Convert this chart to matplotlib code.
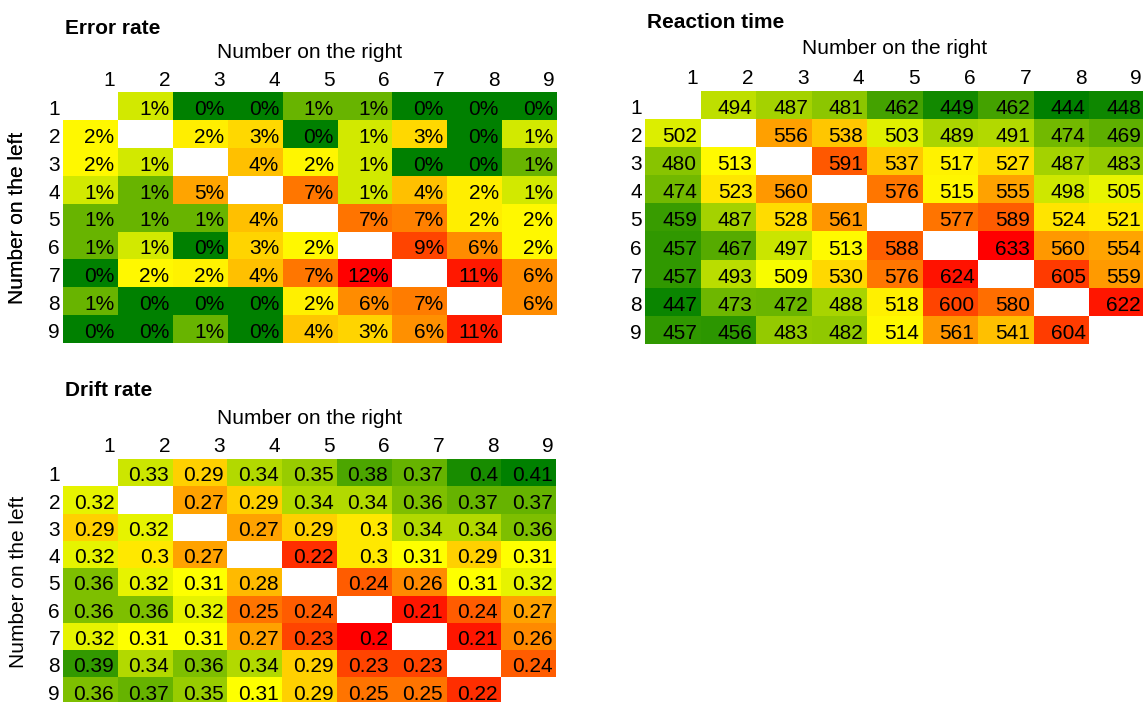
import numpy as np
import matplotlib
matplotlib.use("Agg")
import matplotlib.pyplot as plt
from matplotlib.colors import LinearSegmentedColormap, TwoSlopeNorm

plt.rcParams["font.family"] = ["Liberation Sans", "DejaVu Sans"]

numbers = [1, 2, 3, 4, 5, 6, 7, 8, 9]
nan = np.nan

# error rate in %, rows = number on the left, cols = number on the right
error_rate = [
    [nan, 1.4, 0.0, 0.0, 0.7, 0.7, 0.0, 0.0, 0.0],
    [2.0, nan, 2.4, 3.3, 0.0, 1.4, 3.3, 0.0, 1.4],
    [2.0, 1.4, nan, 4.2, 2.1, 1.4, 0.0, 0.0, 0.7],
    [1.4, 0.7, 5.4, nan, 7.2, 1.4, 4.2, 2.4, 1.4],
    [0.7, 0.7, 0.7, 4.2, nan, 7.3, 6.8, 2.4, 2.0],
    [0.7, 1.4, 0.0, 3.4, 2.0, nan, 9.2, 6.3, 2.0],
    [0.0, 2.0, 2.2, 4.2, 7.2, 12.0, nan, 11.0, 6.3],
    [0.7, 0.0, 0.0, 0.0, 2.3, 6.3, 7.0, nan, 6.3],
    [0.0, 0.0, 0.7, 0.0, 4.0, 3.4, 6.2, 10.8, nan],
]

reaction_time = [
    [nan, 494, 487, 481, 462, 449, 462, 444, 448],
    [502, nan, 556, 538, 503, 489, 491, 474, 469],
    [480, 513, nan, 591, 537, 517, 527, 487, 483],
    [474, 523, 560, nan, 576, 515, 555, 498, 505],
    [459, 487, 528, 561, nan, 577, 589, 524, 521],
    [457, 467, 497, 513, 588, nan, 633, 560, 554],
    [457, 493, 509, 530, 576, 624, nan, 605, 559],
    [447, 473, 472, 488, 518, 600, 580, nan, 622],
    [457, 456, 483, 482, 514, 561, 541, 604, nan],
]

drift_rate = [
    [nan, 0.33, 0.29, 0.34, 0.35, 0.38, 0.37, 0.40, 0.41],
    [0.32, nan, 0.27, 0.29, 0.34, 0.34, 0.36, 0.37, 0.37],
    [0.29, 0.32, nan, 0.27, 0.29, 0.30, 0.34, 0.34, 0.36],
    [0.32, 0.30, 0.27, nan, 0.22, 0.30, 0.31, 0.29, 0.31],
    [0.36, 0.32, 0.31, 0.28, nan, 0.24, 0.26, 0.31, 0.32],
    [0.36, 0.36, 0.32, 0.25, 0.24, nan, 0.21, 0.24, 0.27],
    [0.32, 0.31, 0.31, 0.27, 0.23, 0.20, nan, 0.21, 0.26],
    [0.39, 0.34, 0.36, 0.34, 0.29, 0.23, 0.23, nan, 0.24],
    [0.36, 0.37, 0.35, 0.31, 0.29, 0.25, 0.25, 0.22, nan],
]

W, H = 1143, 702
FS = 15
gyr = LinearSegmentedColormap.from_list("gyr", ["#008000", "#ffff00", "#ff0000"])

fig = plt.figure(figsize=(W / 100, H / 100), dpi=100)


def heatmap(data, title, left, top, cw, ch, fmt, cmap, hdr):
    """Spreadsheet-style 3-colour scale table; left/top/cw/ch in pixels."""
    arr = np.array(data, dtype=float)
    n = arr.shape[0]
    ax = fig.add_axes([left / W, 1 - (top + n * ch) / H, n * cw / W, n * ch / H])
    norm = TwoSlopeNorm(vmin=np.nanmin(arr), vcenter=np.nanmedian(arr),
                        vmax=np.nanmax(arr))
    ax.pcolormesh(np.ma.masked_invalid(arr), cmap=cmap, norm=norm)
    ax.set_xlim(0, n)
    ax.set_ylim(n, 0)
    ax.axis("off")
    px, py = 1 / cw, 1 / ch
    for i in range(n):
        for j in range(n):
            if not np.isnan(arr[i, j]):
                ax.text(j + 1 - 3.5 * px, i + 1 - 5 * py, fmt(arr[i, j]),
                        ha="right", va="baseline", fontsize=FS)
    for k, lab in enumerate(numbers):
        ax.text(k + 1 - 2.5 * px, -6.5 * py, str(lab), ha="right",
                va="baseline", fontsize=FS, clip_on=False)
        ax.text(-3 * px, k + 1 - 5 * py, str(lab), ha="right",
                va="baseline", fontsize=FS, clip_on=False)
    t_dy, r_dy = hdr
    ax.text(2 * px, -t_dy * py, title, ha="left", va="center",
            fontsize=FS, fontweight="bold", clip_on=False)
    ax.text(n / 2, -r_dy * py, "Number on the right", ha="center",
            va="center", fontsize=FS, clip_on=False)
    ax.text(-(left - 18) * px, n / 2, "Number on the left", ha="center",
            va="center", rotation=90, fontsize=FS, clip_on=False)
    return ax


heatmap(error_rate, "Error rate", 63, 92, 54.9, 27.9,
        lambda v: f"{v:.0f}%", gyr, (64, 39))
heatmap(reaction_time, "Reaction time", 645, 91, 55.5, 28.1,
        lambda v: f"{v:.0f}", gyr, (68, 42))
heatmap(drift_rate, "Drift rate", 63, 459, 54.8, 27.3,
        lambda v: f"{v:g}", gyr.reversed(), (68, 41))

fig.savefig("out.png", dpi=100)
